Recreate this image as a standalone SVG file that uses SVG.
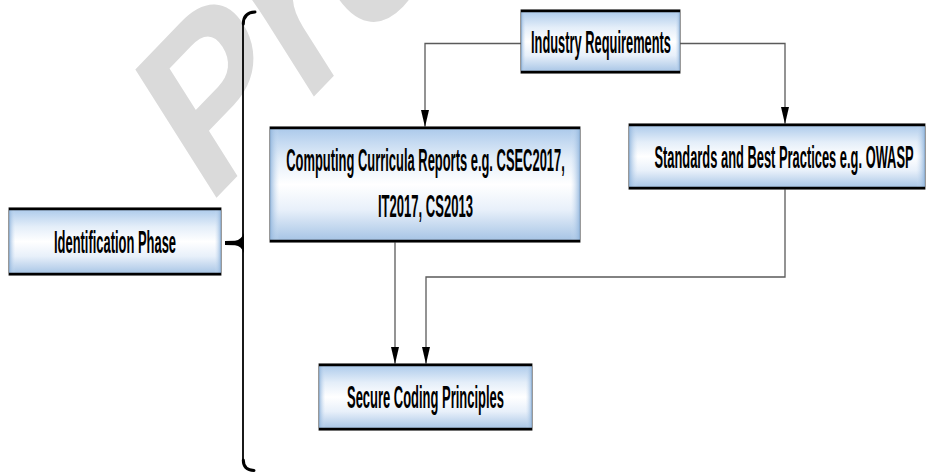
<svg xmlns="http://www.w3.org/2000/svg" width="930" height="472" viewBox="0 0 930 472">
  <defs>
    <linearGradient id="fillV" x1="0" y1="0" x2="0" y2="1">
      <stop offset="0" stop-color="#a9c8ea"/>
      <stop offset="0.28" stop-color="#e4eef9"/>
      <stop offset="0.5" stop-color="#ffffff"/>
      <stop offset="0.72" stop-color="#e8f0fa"/>
      <stop offset="1" stop-color="#a3c2e4"/>
    </linearGradient>
    <linearGradient id="fillH" x1="0" y1="0" x2="1" y2="0">
      <stop offset="0" stop-color="#8fb4dc" stop-opacity="0.9"/>
      <stop offset="0.03" stop-color="#cfe0f3" stop-opacity="0"/>
      <stop offset="0.97" stop-color="#cfe0f3" stop-opacity="0"/>
      <stop offset="1" stop-color="#8fb4dc" stop-opacity="0.9"/>
    </linearGradient>
    <!-- long narrow arrowhead, tip at the path end -->
    <marker id="arrow" markerWidth="17" markerHeight="8" refX="17" refY="4" orient="auto" markerUnits="userSpaceOnUse" viewBox="0 0 17 8">
      <path d="M0,0 L17,4 L0,8 Z" fill="#000"/>
    </marker>
  </defs>
  <style>
    .box { fill: url(#fillV); stroke: #555; stroke-width: 1.2; }
    .edge { fill: url(#fillH); stroke: none; }
    .rim { stroke: #000; stroke-width: 2.6; fill: none; }
    .label { font-family: "Liberation Sans", Arial, sans-serif; font-weight: bold; font-size: 32px; fill: #000; text-anchor: middle; }
    .wire { fill: none; stroke: #5a5a5a; stroke-width: 1.3; }
    .brace { fill: none; stroke: #000; stroke-linecap: round; }
    .mark { font-family: "Liberation Sans", Arial, sans-serif; font-weight: bold; font-size: 240px; fill: #dadada; }
  </style>

  <!-- background watermark -->
  <text class="mark" transform="translate(206.7,207.7) scale(0.78,1) rotate(-39)">Pre</text>

  <!-- curly brace grouping the phase contents -->
  <g id="brace">
    <path class="brace" stroke-width="1.8" d="M243,22 L243,462"/>
    <path class="brace" stroke-width="3" d="M243.3,24 Q243.3,12.5 255,12"/>
    <path class="brace" stroke-width="3" d="M243.3,460 Q243.3,470 254,470.5"/>
    <path d="M225,241 L235,240.8 Q241.5,240 243.8,233 L243.8,253 Q241.5,246 235,245.2 L225,245 Z" fill="#000"/>
  </g>

  <!-- connectors -->
  <g id="connectors">
    <path class="wire" d="M521,43.5 L425,43.5 L425,127" marker-end="url(#arrow)"/>
    <path class="wire" d="M680,43.5 L785,43.5 L785,124" marker-end="url(#arrow)"/>
    <path class="wire" d="M395,242 L395,364" marker-end="url(#arrow)"/>
    <path class="wire" d="M785,189 L785,277 L426,277 L426,364" marker-end="url(#arrow)"/>
  </g>

  <g id="industry">
    <rect class="box" x="521" y="10" width="159" height="63"/>
    <rect class="edge" x="521" y="10" width="159" height="63"/>
    <path class="rim" d="M521,11 L680,11 M521,72 L680,72"/>
    <text class="label" transform="translate(601,53) scale(0.402,1)">Industry Requirements</text>
  </g>

  <g id="curricula">
    <rect class="box" x="270" y="127" width="310" height="115"/>
    <rect class="edge" x="270" y="127" width="310" height="115"/>
    <path class="rim" d="M270,128 L580,128 M270,241 L580,241"/>
    <text class="label" transform="translate(425.5,171) scale(0.404,1)">Computing Curricula Reports e.g. CSEC2017,</text>
    <text class="label" transform="translate(425.5,217) scale(0.408,1)">IT2017, CS2013</text>
  </g>

  <g id="standards">
    <rect class="box" x="629" y="124" width="296" height="65"/>
    <rect class="edge" x="629" y="124" width="296" height="65"/>
    <path class="rim" d="M629,125 L925,125 M629,188 L925,188"/>
    <text class="label" transform="translate(784,168) scale(0.403,1)">Standards and Best Practices e.g. OWASP</text>
  </g>

  <g id="identification">
    <rect class="box" x="9" y="208" width="212" height="67"/>
    <rect class="edge" x="9" y="208" width="212" height="67"/>
    <path class="rim" d="M9,209 L221,209 M9,274 L221,274"/>
    <text class="label" transform="translate(115,253) scale(0.404,1)">Identification Phase</text>
  </g>

  <g id="secure">
    <rect class="box" x="319" y="364" width="213" height="66"/>
    <rect class="edge" x="319" y="364" width="213" height="66"/>
    <path class="rim" d="M319,365 L532,365 M319,429 L532,429"/>
    <text class="label" transform="translate(425.5,408) scale(0.405,1)">Secure Coding Principles</text>
  </g>
</svg>
